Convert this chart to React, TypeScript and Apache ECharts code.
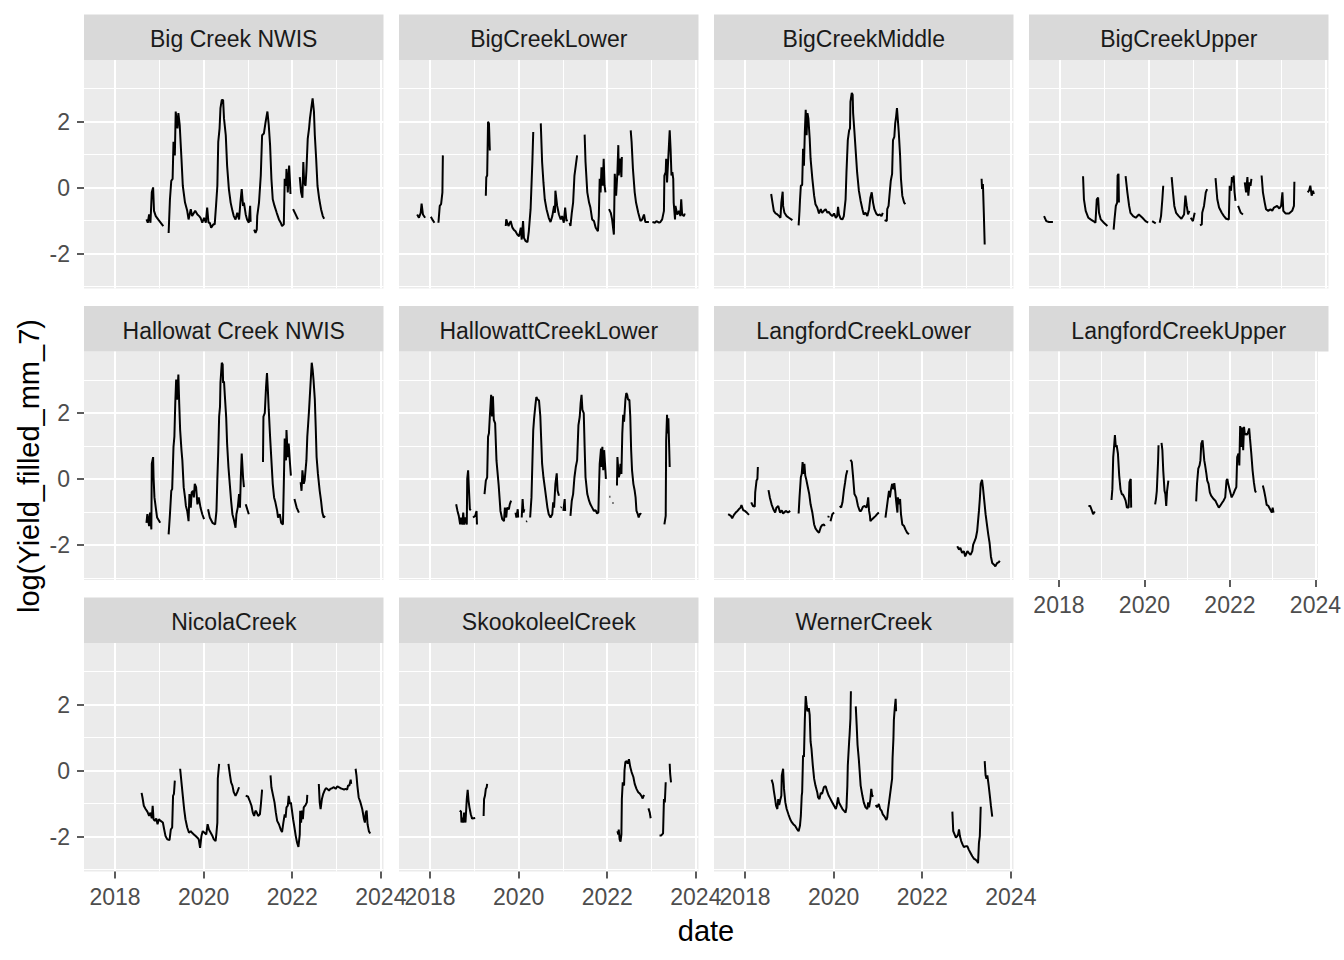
import React, { useEffect, useRef } from "react";
import * as echarts from "echarts";

// ---------- data ----------
const siteNames = [
  "Big Creek NWIS", "BigCreekLower", "BigCreekMiddle", "BigCreekUpper",
  "Hallowat Creek NWIS", "HallowattCreekLower", "LangfordCreekLower", "LangfordCreekUpper",
  "NicolaCreek", "SkookoleelCreek", "WernerCreek",
];

const xMajorTicks = [2018, 2020, 2022, 2024];
const xMinorTicks = [2019, 2021, 2023];
const yMajorTicks = [-2, 0, 2];
const yMinorTicks = [-3, -1, 1, 3];

// each site: list of continuous segments of [decimal year, log(Yield_filled_mm_7)]
const bigCreekNWIS = [
  [[2018.71,-0.96],[2018.74,-1.06],[2018.77,-0.81],[2018.80,-1.06],[2018.83,-0.14],[2018.86,0.01],[2018.88,-0.70],[2018.92,-0.86],[2018.99,-0.99],[2019.09,-1.16]],
  [[2019.21,-1.37],[2019.24,-0.35],[2019.27,0.21],[2019.30,0.27],[2019.32,1.39],[2019.35,0.98],[2019.37,2.31],[2019.41,1.80],[2019.43,2.26],[2019.46,1.90],[2019.50,0.88],[2019.53,0.06],[2019.58,-0.45],[2019.63,-0.70],[2019.66,-0.96],[2019.71,-0.65],[2019.74,-0.86],[2019.81,-0.70],[2019.86,-0.81],[2019.90,-0.86],[2019.93,-0.91],[2019.97,-1.06],[2020.01,-0.91],[2020.05,-1.06],[2020.08,-0.60],[2020.11,-1.06],[2020.14,-1.06],[2020.17,-1.21],[2020.22,-1.11],[2020.25,-1.11],[2020.28,-0.55],[2020.31,0.06],[2020.33,1.39],[2020.36,1.80],[2020.38,2.41],[2020.41,2.66],[2020.44,2.66],[2020.46,2.10],[2020.50,1.59],[2020.53,0.67],[2020.57,-0.04],[2020.61,-0.45],[2020.65,-0.70],[2020.68,-0.86],[2020.72,-0.96],[2020.76,-0.76],[2020.80,-0.96],[2020.83,-0.45],[2020.86,-0.04],[2020.89,-0.55],[2020.91,-0.45],[2020.95,-0.81],[2020.98,-0.96],[2021.02,-1.06],[2021.05,-0.55],[2021.06,-1.01],[2021.08,-1.01]],
  [[2021.14,-1.27],[2021.17,-1.37],[2021.20,-1.27],[2021.21,-0.86],[2021.25,-0.45],[2021.29,0.37],[2021.32,1.59],[2021.36,1.64],[2021.40,2.00],[2021.44,2.31],[2021.47,1.90],[2021.50,1.29],[2021.53,0.27],[2021.56,-0.35],[2021.60,-0.55],[2021.65,-0.76],[2021.70,-0.96],[2021.74,-1.06],[2021.77,-1.16],[2021.81,-1.11],[2021.83,0.27],[2021.86,0.06],[2021.87,0.57],[2021.90,-0.14],[2021.93,0.67],[2021.95,0.16],[2021.96,-0.19]],
  [[2022.02,-0.65],[2022.13,-0.96]],
  [[2022.17,0.32],[2022.20,-0.14],[2022.23,-0.30],[2022.25,0.78],[2022.27,0.16],[2022.30,0.06],[2022.32,0.52],[2022.35,1.49],[2022.38,1.80],[2022.40,2.10],[2022.43,2.41],[2022.46,2.71],[2022.49,2.31],[2022.51,1.59],[2022.54,0.88],[2022.57,0.06],[2022.61,-0.35],[2022.65,-0.65],[2022.69,-0.86],[2022.72,-0.94]],
];

const bigCreekLower = [
  [[2017.71,-0.81],[2017.75,-0.91],[2017.79,-0.76],[2017.81,-0.48],[2017.84,-0.81],[2017.89,-0.91]],
  [[2018.02,-0.88],[2018.05,-0.96],[2018.10,-1.06]],
  [[2018.19,-1.06],[2018.22,-0.55],[2018.25,-0.50],[2018.28,-0.14],[2018.29,0.98]],
  [[2019.26,-0.24],[2019.27,0.32],[2019.29,0.37],[2019.31,2.00],[2019.33,1.95],[2019.35,1.13]],
  [[2019.71,-1.16],[2019.72,-0.96],[2019.77,-1.16],[2019.82,-1.01],[2019.86,-1.21],[2019.89,-1.27],[2019.93,-1.32],[2019.97,-1.42],[2020.01,-1.47],[2020.05,-1.21],[2020.07,-1.57],[2020.10,-1.01],[2020.12,-1.52],[2020.16,-1.62],[2020.20,-1.65],[2020.23,-1.32],[2020.27,-0.65],[2020.29,0.06],[2020.31,0.78],[2020.33,1.69]],
  [[2020.50,1.95],[2020.53,0.78],[2020.56,0.16],[2020.59,-0.35],[2020.63,-0.65],[2020.68,-0.91],[2020.72,-1.04],[2020.76,-0.86],[2020.80,-0.55],[2020.82,-0.76],[2020.83,-0.09],[2020.87,-0.55],[2020.91,-0.81],[2020.95,-0.96],[2020.98,-0.86],[2021.02,-1.06],[2021.05,-0.60],[2021.08,-1.01],[2021.10,-0.96]],
  [[2021.15,-1.06],[2021.17,-1.16],[2021.20,-0.76],[2021.23,-0.45],[2021.26,0.37],[2021.29,0.67],[2021.32,0.98]],
  [[2021.49,1.61],[2021.51,0.78],[2021.55,-0.14],[2021.59,-0.45],[2021.62,-0.60],[2021.66,-0.96],[2021.70,-1.01],[2021.74,-1.21],[2021.79,-1.32],[2021.81,-0.86],[2021.83,0.27],[2021.85,-0.14],[2021.87,0.62],[2021.90,0.06],[2021.92,0.88],[2021.94,0.06],[2021.96,-0.14]],
  [[2022.04,-0.65],[2022.08,-0.76],[2022.11,-0.96],[2022.15,-1.42],[2022.17,0.42],[2022.20,-0.24],[2022.23,0.47],[2022.25,1.29],[2022.26,0.37],[2022.29,0.88],[2022.32,0.32],[2022.33,0.93]],
  [[2022.53,1.74],[2022.55,1.39],[2022.58,0.57],[2022.62,-0.14],[2022.65,-0.45],[2022.70,-0.76],[2022.75,-1.01],[2022.79,-0.96],[2022.83,-0.81],[2022.86,-1.04],[2022.94,-1.04]],
  [[2023.02,-1.04],[2023.08,-1.06],[2023.11,-1.01],[2023.17,-1.06],[2023.20,-1.04],[2023.24,-0.96],[2023.28,-0.70],[2023.29,0.37],[2023.32,0.47],[2023.33,0.88],[2023.35,0.16],[2023.41,1.74],[2023.43,1.18],[2023.45,0.37],[2023.47,0.47],[2023.49,0.27],[2023.50,-0.45],[2023.53,-0.96],[2023.54,-0.55],[2023.58,-0.81],[2023.62,-0.70],[2023.65,-0.86],[2023.67,-0.35],[2023.69,-0.81],[2023.73,-0.86],[2023.75,-0.78]],
];

const bigCreekMiddle = [
  [[2018.59,-0.19],[2018.62,-0.45],[2018.65,-0.70],[2018.69,-0.78],[2018.73,-0.81],[2018.77,-0.86],[2018.80,-0.91],[2018.82,-0.45],[2018.85,-0.12],[2018.86,-0.55],[2018.89,-0.76],[2018.94,-0.86],[2018.99,-0.91],[2019.07,-0.98]],
  [[2019.21,-1.14],[2019.23,-0.70],[2019.24,-0.40],[2019.26,0.06],[2019.29,0.08],[2019.31,1.18],[2019.33,0.67],[2019.35,1.69],[2019.37,2.36],[2019.39,1.59],[2019.41,2.26],[2019.43,2.10],[2019.46,1.49],[2019.48,0.88],[2019.52,0.27],[2019.56,-0.24],[2019.59,-0.50],[2019.63,-0.60],[2019.67,-0.78],[2019.71,-0.65],[2019.74,-0.76],[2019.78,-0.70],[2019.82,-0.65],[2019.86,-0.76],[2019.89,-0.73],[2019.93,-0.81],[2019.97,-0.86],[2020.01,-0.78],[2020.05,-0.91],[2020.08,-0.86],[2020.10,-0.58],[2020.12,-0.81],[2020.16,-0.94],[2020.20,-0.96],[2020.23,-0.86],[2020.27,-0.35],[2020.29,0.47],[2020.32,1.44],[2020.35,1.74],[2020.37,1.80],[2020.38,2.61],[2020.41,2.87],[2020.43,2.82],[2020.44,2.26],[2020.47,1.69],[2020.50,1.08],[2020.53,0.47],[2020.57,-0.09],[2020.61,-0.40],[2020.65,-0.65],[2020.68,-0.81],[2020.72,-0.76],[2020.76,-0.86],[2020.80,-0.65],[2020.83,-0.30],[2020.86,-0.14],[2020.89,-0.45],[2020.92,-0.65],[2020.96,-0.78],[2021.00,-0.84],[2021.04,-0.81],[2021.08,-0.86],[2021.11,-0.76]],
  [[2021.15,-0.98],[2021.20,-1.01],[2021.21,-0.65],[2021.24,-0.55],[2021.26,-0.24],[2021.29,0.21],[2021.32,0.42],[2021.34,1.44],[2021.37,1.54],[2021.39,1.95],[2021.41,2.15],[2021.43,2.41],[2021.45,2.05],[2021.47,1.69],[2021.50,0.98],[2021.52,0.27],[2021.55,-0.24],[2021.59,-0.45],[2021.62,-0.50]],
  [[2023.34,0.27],[2023.35,-0.04],[2023.37,0.11],[2023.39,-0.76],[2023.41,-1.72]],
];

const bigCreekUpper = [
  [[2017.64,-0.86],[2017.69,-1.01],[2017.75,-1.04],[2017.84,-1.04]],
  [[2018.52,0.35],[2018.54,-0.35],[2018.58,-0.70],[2018.64,-0.91],[2018.69,-0.96],[2018.75,-1.01],[2018.80,-1.06],[2018.83,-0.35],[2018.86,-0.30],[2018.88,-0.76],[2018.92,-0.96],[2018.99,-1.06],[2019.07,-1.16]],
  [[2019.21,-1.27],[2019.23,-0.96],[2019.26,-0.55],[2019.29,-0.45],[2019.30,0.37],[2019.32,0.42],[2019.33,-0.45]],
  [[2019.48,0.35],[2019.52,-0.14],[2019.56,-0.55],[2019.59,-0.76],[2019.65,-0.86],[2019.71,-0.91],[2019.78,-0.81],[2019.86,-0.91],[2019.93,-1.01],[2019.99,-1.06]],
  [[2020.08,-1.01],[2020.16,-1.08]],
  [[2020.25,-1.06],[2020.28,-0.86],[2020.31,-0.35],[2020.33,0.06]],
  [[2020.52,0.32],[2020.55,-0.14],[2020.58,-0.55],[2020.62,-0.76],[2020.68,-0.86],[2020.74,-0.94],[2020.80,-0.81],[2020.83,-0.24],[2020.86,-0.55],[2020.89,-0.81],[2020.92,-0.70]],
  [[2020.95,-0.91],[2021.00,-1.01],[2021.04,-0.76]],
  [[2021.16,-1.14],[2021.20,-1.11],[2021.21,-0.76],[2021.25,-0.55],[2021.29,-0.14],[2021.32,-0.04]],
  [[2021.51,0.29],[2021.55,-0.35],[2021.59,-0.60],[2021.65,-0.76],[2021.70,-0.86],[2021.75,-0.94],[2021.81,-0.96],[2021.83,0.06],[2021.86,-0.09],[2021.88,0.32],[2021.90,0.16],[2021.92,0.37],[2021.94,-0.14],[2021.96,-0.40]],
  [[2022.02,-0.55],[2022.08,-0.76],[2022.13,-0.81]],
  [[2022.17,0.16],[2022.20,-0.14],[2022.23,0.32],[2022.25,-0.24],[2022.28,0.16],[2022.30,0.06],[2022.32,0.27]],
  [[2022.55,0.37],[2022.58,-0.14],[2022.62,-0.45],[2022.65,-0.65],[2022.70,-0.70],[2022.75,-0.65],[2022.79,-0.70],[2022.83,-0.60],[2022.90,-0.55],[2022.95,-0.63],[2022.99,-0.55],[2023.02,-0.14],[2023.04,-0.70],[2023.09,-0.78],[2023.17,-0.78],[2023.24,-0.70],[2023.28,-0.55],[2023.29,0.18]],
  [[2023.59,-0.14],[2023.62,-0.09],[2023.65,0.06],[2023.68,-0.24],[2023.71,-0.09],[2023.73,-0.19]],
];

const hallowatCreekNWIS = [
  [[2018.71,-1.32],[2018.73,-1.06],[2018.77,-1.42],[2018.79,-1.01],[2018.82,-1.52],[2018.83,0.47],[2018.86,0.67],[2018.87,0.06],[2018.89,-0.55],[2018.92,-0.86],[2018.95,-1.16],[2019.02,-1.32]],
  [[2019.21,-1.67],[2019.24,-1.06],[2019.27,-0.35],[2019.29,-0.30],[2019.32,0.98],[2019.34,1.29],[2019.36,2.31],[2019.38,3.02],[2019.40,2.41],[2019.43,3.17],[2019.45,2.26],[2019.47,1.49],[2019.50,0.88],[2019.52,0.57],[2019.55,-0.24],[2019.58,-0.55],[2019.60,-0.81],[2019.63,-0.96],[2019.66,-1.27],[2019.68,-0.45],[2019.71,-0.86],[2019.73,-0.40],[2019.76,-0.35],[2019.78,-0.55],[2019.80,-0.14],[2019.83,-0.24],[2019.86,-0.76],[2019.89,-0.55],[2019.93,-0.86],[2019.97,-1.06],[2020.01,-1.21]],
  [[2020.10,-0.91],[2020.14,-1.16],[2020.20,-1.32],[2020.26,-1.37],[2020.29,-0.96],[2020.31,0.01],[2020.33,0.83],[2020.35,1.90],[2020.37,2.20],[2020.38,2.92],[2020.41,3.53],[2020.43,3.48],[2020.44,2.92],[2020.46,2.97],[2020.48,2.51],[2020.51,1.85],[2020.53,1.08],[2020.56,0.37],[2020.59,-0.14],[2020.62,-0.65],[2020.65,-1.06],[2020.68,-1.21],[2020.72,-1.47],[2020.74,-1.06],[2020.77,-0.86],[2020.80,-0.45],[2020.82,-0.86],[2020.84,0.06],[2020.86,0.78],[2020.89,0.06],[2020.91,-0.24]],
  [[2020.95,-0.76],[2021.02,-1.06]],
  [[2021.34,0.52],[2021.35,1.90],[2021.38,2.00],[2021.41,2.82],[2021.43,3.22],[2021.45,2.71],[2021.47,2.10],[2021.50,1.29],[2021.53,0.57],[2021.56,-0.14],[2021.59,-0.55],[2021.62,-0.70],[2021.66,-0.96],[2021.68,-1.16],[2021.72,-1.06],[2021.75,-1.32],[2021.79,-1.37],[2021.81,-0.14],[2021.83,1.23],[2021.86,0.57],[2021.87,1.49],[2021.90,0.67],[2021.92,1.08],[2021.95,0.47],[2021.97,0.11]],
  [[2022.05,-0.60],[2022.10,-0.86],[2022.15,-1.01]],
  [[2022.19,-0.09],[2022.21,-0.35],[2022.23,0.27],[2022.26,-0.14],[2022.28,-0.04],[2022.32,0.57],[2022.34,1.29],[2022.36,1.69],[2022.38,2.10],[2022.41,2.82],[2022.44,3.53],[2022.46,3.33],[2022.48,3.02],[2022.51,2.41],[2022.53,1.59],[2022.55,0.67],[2022.58,0.16],[2022.62,-0.35],[2022.65,-0.65],[2022.68,-1.01],[2022.71,-1.16],[2022.74,-1.11]],
];

const hallowattCreekLower = [
  [[2018.59,-0.76],[2018.62,-0.96],[2018.65,-1.11],[2018.68,-1.37],[2018.70,-1.16],[2018.73,-1.37],[2018.75,-1.01],[2018.77,-1.37],[2018.80,-1.16],[2018.83,-1.37],[2018.84,0.01],[2018.86,0.27],[2018.88,-0.35],[2018.90,-0.91],[2018.92,-0.94]],
  [[2018.97,-1.16],[2019.02,-1.11],[2019.05,-0.96],[2019.06,-1.37]],
  [[2019.23,-0.45],[2019.26,-0.04],[2019.29,0.06],[2019.31,1.29],[2019.33,1.39],[2019.35,1.90],[2019.38,2.56],[2019.40,1.90],[2019.42,2.51],[2019.44,1.80],[2019.47,1.69],[2019.50,0.57],[2019.52,0.27],[2019.55,-0.19],[2019.58,-0.76],[2019.59,-0.96],[2019.63,-1.21],[2019.67,-1.27],[2019.69,-0.86],[2019.72,-1.16],[2019.74,-0.86],[2019.78,-0.91],[2019.80,-0.76],[2019.83,-0.65]],
  [[2019.93,-1.01],[2019.95,-1.16],[2019.98,-0.91],[2019.99,-1.16]],
  [[2020.07,-1.16],[2020.09,-0.60],[2020.11,-1.01],[2020.13,-0.91]],
  [[2020.17,-1.29],[2020.19,-1.27]],
  [[2020.26,-1.16],[2020.29,-0.55],[2020.31,0.47],[2020.33,1.49],[2020.35,1.85],[2020.38,2.26],[2020.40,2.49],[2020.43,2.41],[2020.46,2.39],[2020.49,1.90],[2020.51,1.18],[2020.53,0.47],[2020.56,0.06],[2020.59,-0.24],[2020.62,-0.55],[2020.65,-0.86],[2020.68,-1.06],[2020.72,-1.16],[2020.76,-1.06],[2020.78,-0.70],[2020.80,-0.86],[2020.83,-0.14],[2020.86,0.18],[2020.88,-0.35],[2020.91,-0.50]],
  [[2020.95,-0.86],[2020.97,-0.84]],
  [[2021.01,-0.96],[2021.04,-0.60],[2021.05,-0.96]],
  [[2021.17,-1.11],[2021.20,-0.65],[2021.23,-0.45],[2021.26,0.06],[2021.29,0.37],[2021.32,0.57],[2021.35,1.64],[2021.38,1.90],[2021.40,2.31],[2021.42,2.56],[2021.44,2.10],[2021.47,2.00],[2021.49,0.98],[2021.51,0.06],[2021.55,-0.45],[2021.59,-0.65],[2021.62,-0.76],[2021.66,-0.86],[2021.70,-0.96],[2021.74,-0.94],[2021.77,-1.04],[2021.80,-1.01],[2021.81,-0.45],[2021.83,0.47],[2021.86,0.93],[2021.87,0.37],[2021.89,0.98],[2021.91,0.27],[2021.93,0.88],[2021.95,0.47],[2021.97,0.01]],
  [[2022.05,-0.53],[2022.07,-0.53]],
  [[2022.12,-0.72],[2022.14,-0.72]],
  [[2022.22,-0.19],[2022.23,0.67],[2022.26,0.06],[2022.28,0.16],[2022.30,0.47],[2022.32,0.16],[2022.34,1.39],[2022.36,1.95],[2022.38,1.74],[2022.41,2.41],[2022.43,2.61],[2022.45,2.56],[2022.47,2.41],[2022.50,2.41],[2022.52,1.90],[2022.54,0.88],[2022.56,0.27],[2022.59,-0.14],[2022.62,-0.35],[2022.64,-0.55],[2022.66,-0.96],[2022.69,-1.06],[2022.71,-1.16],[2022.74,-1.04],[2022.77,-1.06]],
  [[2023.29,-1.37],[2023.32,-1.11],[2023.33,1.18],[2023.35,1.95],[2023.36,1.39],[2023.38,1.85],[2023.40,0.88],[2023.41,0.37]],
];

const langfordCreekLower = [
  [[2017.62,-1.06],[2017.68,-1.11],[2017.71,-1.18],[2017.75,-1.08],[2017.79,-1.01],[2017.83,-0.96],[2017.86,-0.91],[2017.90,-0.86],[2017.92,-0.78],[2017.96,-0.94],[2018.00,-0.96],[2018.04,-1.01],[2018.09,-1.08]],
  [[2018.14,-0.70],[2018.18,-0.81],[2018.22,-0.83],[2018.23,-0.40],[2018.26,-0.04],[2018.28,0.01],[2018.29,0.37]],
  [[2018.53,-0.33],[2018.56,-0.55],[2018.60,-0.76],[2018.64,-0.91],[2018.68,-1.01],[2018.71,-0.86],[2018.75,-0.81],[2018.79,-1.01],[2018.83,-0.94],[2018.86,-1.04],[2018.92,-0.96],[2018.97,-1.01],[2019.02,-0.96]],
  [[2019.21,-1.04],[2019.23,-0.55],[2019.26,0.06],[2019.28,0.16],[2019.30,0.52],[2019.32,0.16],[2019.34,0.47],[2019.36,0.11],[2019.38,0.01],[2019.41,-0.19],[2019.45,-0.45],[2019.48,-0.76],[2019.52,-1.01],[2019.56,-1.37],[2019.59,-1.49],[2019.63,-1.57],[2019.67,-1.62],[2019.71,-1.45],[2019.74,-1.39],[2019.78,-1.37],[2019.80,-1.42]],
  [[2019.88,-1.16],[2019.89,-1.11]],
  [[2019.93,-1.27],[2019.97,-1.06],[2020.01,-1.01]],
  [[2020.14,-0.81],[2020.17,-0.86],[2020.20,-0.70],[2020.23,-0.35],[2020.26,-0.09],[2020.28,0.11],[2020.31,0.27]],
  [[2020.38,0.59],[2020.41,0.52],[2020.44,0.06],[2020.47,-0.45],[2020.51,-0.55],[2020.55,-0.81],[2020.59,-0.96],[2020.62,-0.96],[2020.66,-0.84],[2020.70,-0.81],[2020.74,-0.86],[2020.76,-0.76],[2020.78,-0.55],[2020.80,-0.96],[2020.82,-1.11],[2020.83,-1.27],[2020.87,-1.21],[2020.91,-1.16],[2020.95,-1.11],[2020.98,-1.06],[2021.02,-1.01]],
  [[2021.17,-1.16],[2021.20,-0.86],[2021.23,-0.55],[2021.25,-0.35],[2021.27,-0.55],[2021.29,-0.35],[2021.32,-0.14],[2021.35,-0.30],[2021.37,-0.12],[2021.39,-0.35],[2021.41,-0.65],[2021.44,-1.01],[2021.45,-0.55],[2021.47,-0.76],[2021.50,-0.60],[2021.52,-1.06],[2021.55,-1.37],[2021.59,-1.42],[2021.62,-1.52],[2021.66,-1.62],[2021.70,-1.67]],
  [[2022.79,-2.03],[2022.83,-2.13],[2022.86,-2.08],[2022.90,-2.23],[2022.94,-2.18],[2022.97,-2.34],[2023.02,-2.18],[2023.05,-2.23],[2023.09,-2.29],[2023.13,-2.18],[2023.15,-1.98],[2023.18,-1.88],[2023.21,-1.78],[2023.24,-1.57],[2023.28,-0.96],[2023.30,-0.60],[2023.32,-0.14],[2023.35,-0.02],[2023.37,-0.24],[2023.40,-0.65],[2023.43,-1.06],[2023.46,-1.37],[2023.49,-1.67],[2023.52,-1.93],[2023.55,-2.34],[2023.58,-2.54],[2023.62,-2.59],[2023.65,-2.64],[2023.69,-2.54],[2023.73,-2.51],[2023.75,-2.47]],
];

const langfordCreekUpper = [
  [[2018.69,-0.81],[2018.73,-0.81],[2018.77,-0.94],[2018.80,-1.06],[2018.84,-0.98]],
  [[2019.23,-0.63],[2019.25,-0.30],[2019.27,0.67],[2019.29,0.98],[2019.31,1.34],[2019.33,0.98],[2019.35,1.03],[2019.38,0.78],[2019.41,0.11],[2019.44,-0.30],[2019.47,-0.45],[2019.50,-0.47],[2019.53,-0.55],[2019.56,-0.65],[2019.59,-0.86],[2019.63,-0.86],[2019.65,-0.09],[2019.68,0.01],[2019.69,-0.86]],
  [[2020.25,-0.76],[2020.27,-0.60],[2020.29,-0.35],[2020.32,0.57],[2020.33,1.03]],
  [[2020.40,1.10],[2020.42,0.88],[2020.44,0.27],[2020.47,-0.35],[2020.49,-0.45],[2020.51,-0.81],[2020.53,-0.35],[2020.56,-0.04]],
  [[2021.21,-0.67],[2021.23,-0.14],[2021.26,0.32],[2021.29,0.42],[2021.31,0.57],[2021.33,1.08],[2021.36,1.18],[2021.38,0.88],[2021.40,0.57],[2021.42,0.42],[2021.45,0.16],[2021.47,-0.04],[2021.50,-0.14],[2021.53,-0.40],[2021.56,-0.50],[2021.59,-0.55],[2021.62,-0.60],[2021.66,-0.65],[2021.70,-0.76],[2021.74,-0.86],[2021.77,-0.81],[2021.81,-0.73],[2021.85,-0.65],[2021.89,-0.55],[2021.92,-0.04],[2021.94,0.01],[2021.96,-0.14],[2022.00,-0.35],[2022.04,-0.55],[2022.08,-0.45],[2022.11,-0.35],[2022.15,-0.24],[2022.17,0.67],[2022.20,0.78],[2022.22,0.42],[2022.24,1.61],[2022.26,0.98],[2022.29,1.57],[2022.31,0.88],[2022.33,1.59],[2022.35,1.34],[2022.38,1.39],[2022.40,1.34],[2022.43,1.44],[2022.45,1.54],[2022.47,1.23],[2022.50,0.78],[2022.53,0.27],[2022.56,-0.09],[2022.59,-0.35],[2022.61,-0.40]],
  [[2022.77,-0.19],[2022.80,-0.35],[2022.83,-0.55],[2022.86,-0.78],[2022.90,-0.81],[2022.94,-0.91],[2022.98,-1.01],[2023.00,-0.86],[2023.02,-1.01]],
];

const nicolaCreek = [
  [[2018.60,-0.67],[2018.62,-0.81],[2018.65,-1.06],[2018.69,-1.16],[2018.73,-1.24],[2018.77,-1.37],[2018.80,-1.27],[2018.83,-1.44],[2018.85,-1.06],[2018.87,-1.47],[2018.90,-1.52],[2018.93,-1.45],[2018.96,-1.62],[2018.99,-1.47],[2019.03,-1.52],[2019.08,-1.57],[2019.11,-1.78],[2019.14,-1.98],[2019.18,-2.08],[2019.23,-2.10],[2019.26,-1.78],[2019.29,-1.72],[2019.31,-0.76],[2019.33,-0.70],[2019.35,-0.30]],
  [[2019.47,0.06],[2019.50,-0.35],[2019.53,-0.76],[2019.56,-1.16],[2019.59,-1.47],[2019.63,-1.72],[2019.67,-1.88],[2019.71,-1.83],[2019.74,-1.88],[2019.78,-1.93],[2019.82,-1.98],[2019.86,-2.03],[2019.89,-2.08],[2019.92,-2.34],[2019.95,-1.98],[2019.98,-1.83],[2020.02,-1.88],[2020.06,-1.93],[2020.09,-1.62],[2020.12,-1.78],[2020.16,-1.88],[2020.20,-1.98],[2020.23,-2.08],[2020.27,-2.13],[2020.29,-1.88],[2020.31,-1.57],[2020.32,-0.24],[2020.35,0.21]],
  [[2020.56,0.21],[2020.59,-0.09],[2020.62,-0.35],[2020.65,-0.45],[2020.68,-0.65],[2020.72,-0.76],[2020.76,-0.65],[2020.80,-0.50]],
  [[2020.95,-0.76],[2021.00,-0.78],[2021.04,-0.91],[2021.08,-1.06],[2021.11,-1.27],[2021.14,-1.37],[2021.17,-1.21],[2021.20,-1.27],[2021.23,-1.37],[2021.27,-1.32],[2021.29,-1.06],[2021.32,-0.57]],
  [[2021.51,-0.14],[2021.53,-0.50],[2021.56,-0.70],[2021.60,-0.96],[2021.63,-1.27],[2021.66,-1.52],[2021.70,-1.62],[2021.74,-1.78],[2021.77,-1.86],[2021.80,-1.57],[2021.83,-1.32],[2021.85,-1.42],[2021.87,-1.11],[2021.90,-1.06],[2021.92,-0.76],[2021.95,-1.01],[2021.97,-0.96],[2021.99,-1.16],[2022.02,-1.47],[2022.05,-1.72],[2022.08,-1.98],[2022.11,-2.18],[2022.14,-2.31],[2022.17,-1.93],[2022.18,-1.21],[2022.20,-1.57],[2022.22,-1.21],[2022.24,-1.47],[2022.26,-1.11],[2022.30,-1.04],[2022.33,-0.96],[2022.34,-0.73]],
  [[2022.60,-0.40],[2022.62,-0.96],[2022.64,-1.16],[2022.67,-0.86],[2022.70,-0.70],[2022.73,-0.60],[2022.76,-0.53],[2022.79,-0.55],[2022.83,-0.60],[2022.86,-0.55],[2022.90,-0.53],[2022.94,-0.50],[2022.98,-0.55],[2023.02,-0.47],[2023.05,-0.50],[2023.09,-0.53],[2023.13,-0.55],[2023.17,-0.57],[2023.20,-0.55],[2023.24,-0.57],[2023.26,-0.45],[2023.29,-0.45],[2023.32,-0.27],[2023.33,-0.40]],
  [[2023.43,0.06],[2023.45,-0.14],[2023.47,-0.45],[2023.50,-0.81],[2023.54,-0.96],[2023.58,-1.16],[2023.62,-1.47],[2023.64,-1.57],[2023.66,-1.27],[2023.68,-1.21],[2023.70,-1.62],[2023.73,-1.83],[2023.76,-1.90]],
];

const skookoleelCreek = [
  [[2018.67,-1.21],[2018.70,-1.24],[2018.71,-1.57],[2018.73,-1.42],[2018.75,-1.57],[2018.77,-1.27],[2018.79,-1.47],[2018.80,-1.57],[2018.83,-0.86],[2018.85,-0.58],[2018.87,-0.91],[2018.89,-1.11],[2018.92,-1.32],[2018.95,-1.45],[2019.02,-1.43]],
  [[2019.21,-1.37],[2019.22,-0.86],[2019.24,-0.76],[2019.26,-0.55],[2019.28,-0.50],[2019.29,-0.40]],
  [[2022.23,-1.83],[2022.25,-1.93],[2022.26,-1.78],[2022.28,-2.08],[2022.30,-2.15],[2022.32,-1.93],[2022.33,-0.86],[2022.35,-0.35],[2022.38,-0.45],[2022.39,0.01],[2022.41,0.27],[2022.44,0.29],[2022.46,0.21],[2022.49,0.35],[2022.52,0.11],[2022.55,-0.04],[2022.59,-0.19],[2022.62,-0.40],[2022.66,-0.55],[2022.70,-0.65],[2022.74,-0.70],[2022.77,-0.76],[2022.80,-0.84],[2022.83,-0.73]],
  [[2022.93,-1.14],[2022.96,-1.27],[2022.98,-1.44]],
  [[2023.18,-1.96],[2023.22,-1.96],[2023.26,-1.90],[2023.28,-0.86],[2023.30,-0.96],[2023.32,-0.35]],
  [[2023.41,0.21],[2023.42,-0.09],[2023.44,-0.35]],
];

const wernerCreek = [
  [[2018.60,-0.27],[2018.63,-0.40],[2018.65,-0.60],[2018.68,-0.86],[2018.70,-1.06],[2018.73,-1.16],[2018.75,-0.86],[2018.77,-1.04],[2018.80,-0.86],[2018.82,-0.76],[2018.83,-0.14],[2018.86,0.06],[2018.88,-0.55],[2018.91,-0.96],[2018.94,-1.16],[2018.98,-1.32],[2019.02,-1.47],[2019.05,-1.55],[2019.09,-1.62],[2019.13,-1.67],[2019.17,-1.76],[2019.21,-1.83],[2019.24,-1.67],[2019.26,-1.37],[2019.28,-0.76],[2019.29,-0.65],[2019.31,0.47],[2019.33,0.42],[2019.35,1.54],[2019.37,2.26],[2019.39,2.00],[2019.41,1.80],[2019.44,1.90],[2019.46,1.69],[2019.48,0.88],[2019.50,0.67],[2019.53,0.16],[2019.56,-0.24],[2019.59,-0.45],[2019.63,-0.65],[2019.65,-0.81],[2019.68,-0.86],[2019.71,-0.67],[2019.74,-0.70],[2019.78,-0.50],[2019.82,-0.47],[2019.86,-0.65],[2019.89,-0.76],[2019.93,-0.86],[2019.97,-0.96],[2020.01,-1.06],[2020.05,-1.16],[2020.07,-1.06],[2020.10,-0.81],[2020.12,-0.96],[2020.16,-1.06],[2020.20,-1.16],[2020.23,-1.21],[2020.27,-1.27],[2020.29,-1.11],[2020.31,-0.45],[2020.32,0.16],[2020.35,0.88],[2020.36,1.08],[2020.38,1.59],[2020.39,2.41]],
  [[2020.50,1.95],[2020.52,1.39],[2020.54,0.78],[2020.57,0.32],[2020.61,-0.45],[2020.65,-0.76],[2020.68,-0.96],[2020.72,-1.11],[2020.76,-1.16],[2020.78,-0.96],[2020.80,-1.11],[2020.83,-0.86],[2020.85,-0.55],[2020.87,-0.76],[2020.90,-0.78]],
  [[2020.95,-1.04],[2020.98,-1.11],[2021.02,-1.01],[2021.05,-1.16],[2021.08,-1.21],[2021.11,-1.32],[2021.15,-1.39],[2021.19,-1.49],[2021.21,-1.42],[2021.23,-1.16],[2021.26,-0.86],[2021.29,-0.55],[2021.32,-0.24],[2021.33,0.37],[2021.35,0.98],[2021.36,1.54],[2021.38,1.90],[2021.40,2.18],[2021.41,1.80]],
  [[2022.68,-1.24],[2022.70,-1.83],[2022.73,-1.93],[2022.76,-2.03],[2022.79,-1.98],[2022.81,-1.93],[2022.83,-1.78],[2022.85,-1.98],[2022.88,-2.13],[2022.91,-2.23],[2022.94,-2.31],[2022.98,-2.29],[2023.02,-2.29],[2023.05,-2.39],[2023.09,-2.49],[2023.13,-2.59],[2023.17,-2.67],[2023.20,-2.69],[2023.24,-2.74],[2023.26,-2.80],[2023.28,-2.18],[2023.30,-1.98],[2023.32,-1.09]],
  [[2023.41,0.29],[2023.43,-0.14],[2023.45,-0.24],[2023.47,-0.14],[2023.50,-0.45],[2023.53,-0.81],[2023.55,-1.06],[2023.58,-1.39]],
];

const siteData = [
  bigCreekNWIS, bigCreekLower, bigCreekMiddle, bigCreekUpper,
  hallowatCreekNWIS, hallowattCreekLower, langfordCreekLower, langfordCreekUpper,
  nicolaCreek, skookoleelCreek, wernerCreek,
];

// ---------- layout / style ----------
const X_MIN = 2017.3;
const X_MAX = 2024.06;
const Y_MIN = -3.05;
const Y_MAX = 3.87;
const PANEL_W = 299.5;
const PANEL_H = 228.4;
const COL_STEP = 315;
const ROW_STEP = 291.5;
const LEFT0 = 84;
const TOP0 = 60;
const STRIP_H = 45.5;
const FONT = "'Liberation Sans', Arial, Helvetica, sans-serif";

export default function App() {
  const ref = useRef<HTMLDivElement>(null);

  useEffect(() => {
    if (!ref.current) return;
    const chart = echarts.init(ref.current, null, { renderer: "svg" });

    const grids: any[] = [];
    const xAxes: any[] = [];
    const yAxes: any[] = [];
    const series: any[] = [];
    const graphics: any[] = [];

    siteNames.forEach((name, i) => {
      const c = i % 4;
      const r = Math.floor(i / 4);
      const left = LEFT0 + c * COL_STEP;
      const top = TOP0 + r * ROW_STEP;
      grids.push({
        left, top, width: PANEL_W, height: PANEL_H,
        show: true, backgroundColor: "#EBEBEB", borderWidth: 0, containLabel: false,
      });
      const showX = r === 2 || (r === 1 && c === 3);
      const showY = c === 0;

      xAxes.push({
        type: "value", gridIndex: i, min: X_MIN, max: X_MAX, position: "bottom",
        axisLine: { show: false, onZero: false },
        axisTick: { show: showX, customValues: xMajorTicks, length: 7, lineStyle: { color: "#333333", width: 1.6 } },
        axisLabel: {
          show: showX, customValues: xMajorTicks, margin: 14, color: "#4D4D4D",
          fontSize: 23, fontFamily: FONT, formatter: (v: number) => String(Math.round(v)),
        },
        splitLine: { show: true, lineStyle: { color: "#FFFFFF", width: 2.1 } },
      });
      xAxes.push({
        type: "value", gridIndex: i, min: X_MIN, max: X_MAX, position: "bottom",
        axisLine: { show: false, onZero: false },
        axisTick: { show: false, customValues: xMinorTicks },
        axisLabel: { show: false, customValues: xMinorTicks },
        splitLine: { show: true, lineStyle: { color: "#FFFFFF", width: 1.1 } },
      });
      yAxes.push({
        type: "value", gridIndex: i, min: Y_MIN, max: Y_MAX, position: "left",
        axisLine: { show: false, onZero: false },
        axisTick: { show: showY, customValues: yMajorTicks, length: 7, lineStyle: { color: "#333333", width: 1.6 } },
        axisLabel: {
          show: showY, customValues: yMajorTicks, margin: 14, color: "#4D4D4D",
          fontSize: 23, fontFamily: FONT, padding: [6, 0, 0, 0],
          formatter: (v: number) => String(Math.round(v)),
        },
        splitLine: { show: true, lineStyle: { color: "#FFFFFF", width: 2.1 } },
      });
      yAxes.push({
        type: "value", gridIndex: i, min: Y_MIN, max: Y_MAX, position: "left",
        axisLine: { show: false, onZero: false },
        axisTick: { show: false, customValues: yMinorTicks },
        axisLabel: { show: false, customValues: yMinorTicks },
        splitLine: { show: true, lineStyle: { color: "#FFFFFF", width: 1.1 } },
      });

      siteData[i].forEach((seg) => {
        series.push({
          type: "line",
          xAxisIndex: 2 * i,
          yAxisIndex: 2 * i,
          data: seg,
          showSymbol: false,
          symbol: "none",
          lineStyle: { color: "#000000", width: 2 },
          z: 5,
          silent: true,
        });
      });

      graphics.push({
        type: "rect",
        shape: { x: left, y: top - STRIP_H, width: PANEL_W, height: STRIP_H },
        style: { fill: "#D9D9D9" },
        silent: true,
      });
      graphics.push({
        type: "text",
        x: left + PANEL_W / 2,
        y: top - STRIP_H / 2 + 2,
        style: {
          text: name, fill: "#1A1A1A", fontSize: 23, fontFamily: FONT,
          textAlign: "center", textVerticalAlign: "middle", align: "center", verticalAlign: "middle",
        },
        silent: true,
      });
    });

    graphics.push({
      type: "text",
      x: 706,
      y: 931,
      style: {
        text: "date", fill: "#000000", fontSize: 29, fontFamily: FONT,
        textAlign: "center", textVerticalAlign: "middle", align: "center", verticalAlign: "middle",
      },
      silent: true,
    });
    graphics.push({
      type: "text",
      x: 29,
      y: 466,
      rotation: Math.PI / 2,
      style: {
        text: "log(Yield_filled_mm_7)", fill: "#000000", fontSize: 29, fontFamily: FONT,
        textAlign: "center", textVerticalAlign: "middle", align: "center", verticalAlign: "middle",
      },
      silent: true,
    });

    chart.setOption({
      animation: false,
      backgroundColor: "#FFFFFF",
      grid: grids,
      xAxis: xAxes,
      yAxis: yAxes,
      series,
      graphic: { elements: graphics },
    });

    return () => chart.dispose();
  }, []);

  return (
    <div
      ref={ref}
      style={{ position: "fixed", left: 0, top: 0, width: 1344, height: 960 }}
    />
  );
}
